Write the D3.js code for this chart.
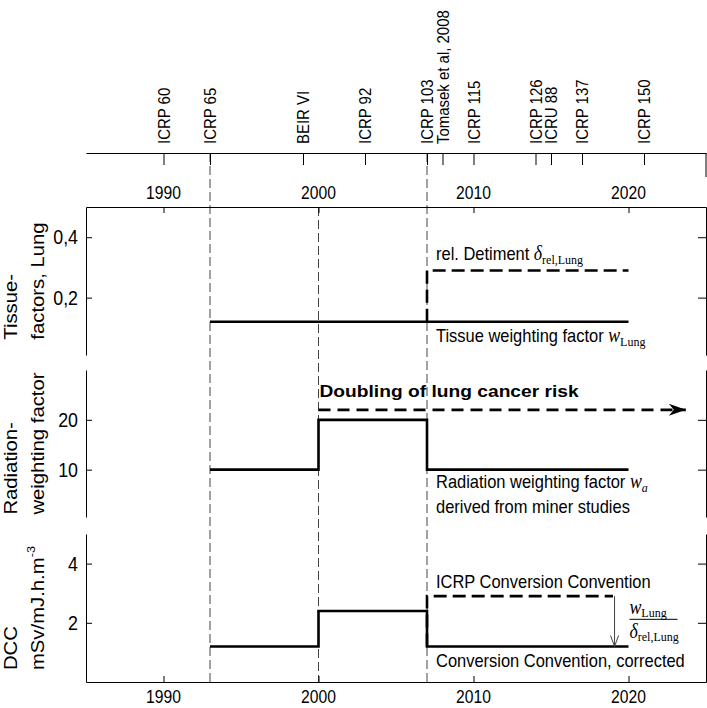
<!DOCTYPE html>
<html>
<head>
<meta charset="utf-8">
<script src="https://cdn.jsdelivr.net/npm/d3@7"></script>
<style>
  body { margin: 0; background: #fff; }
  svg { display: block; }
</style>
</head>
<body>
<div id="chart"></div>
<script>
// ---- data ----
var axisYears = [1990, 2000, 2010, 2020];
var eventNames = ["ICRP 60", "ICRP 65", "BEIR VI", "ICRP 92", "ICRP 103", "Tomasek et al, 2008",
                  "ICRP 115", "ICRP 126", "ICRU 88", "ICRP 137", "ICRP 150"];
var eventYears = [1990, 1993, 1999, 2003, 2007, 2008, 2010, 2014, 2015, 2017, 2021];
var refYears = [1993, 2000, 2007];

var tissueTicks = [0.2, 0.4];
var tissueTickLabels = ["0,2", "0,4"];
var radTicks = [10, 20];
var dccTicks = [2, 4];

// tissue weighting factor and relative detriment (lung)
var wLungYears = [1993, 2020];
var wLungVals = [0.12, 0.12];
var detrYears = [2007, 2007, 2020];
var detrVals = [0.12, 0.29, 0.29];

// radiation weighting factor (step after)
var waYears = [1993, 2000, 2007, 2020];
var waVals = [10, 20, 10, 10];
var doublingYears = [2000, 2023.7];
var doublingVals = [22, 22];

// dose conversion convention
var dccCorrYears = [1993, 2000, 2007, 2020];
var dccCorrVals = [1.2, 2.4, 1.2, 1.2];
var dccIcrpYears = [2007, 2007, 2019];
var dccIcrpVals = [1.2, 2.9, 2.9];
var ratioArrowYears = [2019.1, 2019.1];
var ratioArrowVals = [2.9, 1.2];

// ---- layout ----
var width = 707, height = 708;
var sans = "'Liberation Sans', Arial, sans-serif";
var serif = "'Liberation Serif', 'Times New Roman', serif";

var svg = d3.select("#chart").append("svg")
    .attr("width", width)
    .attr("height", height);

var x = d3.scaleLinear().domain([1985, 2025]).range([86, 706]);
var y1 = d3.scaleLinear().domain([0.01, 0.5]).range([355, 207]);
var y2 = d3.scaleLinear().domain([0.5, 30]).range([517, 370]);
var y3 = d3.scaleLinear().domain([0, 5]).range([682, 534]);

var eventAxisY = 153;

// horizontal text, slightly condensed like the original
function hText(sel, px, py, size, sx, anchor) {
    return sel.append("text")
        .attr("transform", "translate(" + px + "," + py + ") scale(" + sx + ",1)")
        .attr("text-anchor", anchor || "start")
        .style("font-family", sans)
        .style("font-size", size + "px")
        .style("fill", "#000");
}

function pts(xs, vs) { return d3.zip(xs, vs); }

// ---- dashed reference lines ----
refYears.forEach(function (yr) {
    svg.append("line")
        .attr("x1", x(yr)).attr("x2", x(yr))
        .attr("y1", yr === 2000 ? y1.range()[1] : eventAxisY)
        .attr("y2", y3.range()[0])
        .attr("stroke", "#444")
        .attr("stroke-width", 1)
        .attr("stroke-dasharray", "9,4");
});

// ---- event axis on top ----
svg.append("g")
    .attr("transform", "translate(0," + eventAxisY + ")")
    .call(d3.axisBottom(x).tickValues(eventYears).tickSizeInner(12).tickSizeOuter(0).tickFormat(""));
svg.append("line")
    .attr("x1", x(2025)).attr("x2", x(2025))
    .attr("y1", eventAxisY).attr("y2", eventAxisY + 24)
    .attr("stroke", "#000");

eventNames.forEach(function (name, i) {
    svg.append("text")
        .attr("transform", "translate(" + x(eventYears[i]) + "," + (eventAxisY - 9) + ") rotate(-90) scale(0.88,1)")
        .attr("dy", "0.36em")
        .style("font-family", sans)
        .style("font-size", "17px")
        .text(name);
});

// ---- year axes ----
svg.append("g")
    .attr("transform", "translate(0," + y1.range()[1] + ")")
    .call(d3.axisBottom(x).tickValues(axisYears).tickSizeInner(6).tickSizeOuter(0).tickFormat(""));
svg.append("g")
    .attr("transform", "translate(0," + y3.range()[0] + ")")
    .call(d3.axisBottom(x).tickValues(axisYears).tickSizeInner(-6).tickSizeOuter(0).tickFormat(""));

axisYears.forEach(function (yr) {
    hText(svg, x(yr), y1.range()[1] - 8, 18, 0.87, "middle").text(yr);
    hText(svg, x(yr), y3.range()[0] + 21, 18, 0.87, "middle").text(yr);
});

// ---- panel frames (left and right axes) ----
var panels = [
    {y: y1, ticks: tissueTicks, labels: tissueTickLabels, title: ["Tissue-", "factors, Lung"]},
    {y: y2, ticks: radTicks, labels: radTicks.map(String), title: ["Radiation-", "weighting factor"]},
    {y: y3, ticks: dccTicks, labels: dccTicks.map(String), title: ["DCC", "mSv/mJ.h.m"]}
];

panels.forEach(function (p, k) {
    svg.append("g")
        .attr("transform", "translate(" + x.range()[0] + ",0)")
        .call(d3.axisLeft(p.y).tickValues(p.ticks).tickSizeInner(-6).tickSizeOuter(0).tickFormat(""));
    svg.append("g")
        .attr("transform", "translate(" + x.range()[1] + ",0)")
        .call(d3.axisRight(p.y).tickValues(p.ticks).tickSizeInner(-8).tickSizeOuter(0).tickFormat(""));

    p.ticks.forEach(function (t, i) {
        hText(svg, x.range()[0] - 8, p.y(t), 20, 0.89, "end")
            .attr("dy", "0.36em")
            .text(p.labels[i]);
    });

    // two-line rotated title, lines left-aligned, block centred on the panel
    var cy = (p.y.range()[0] + p.y.range()[1]) / 2;
    var sxAlong = 1.16;
    var lines = p.title.map(function (s, i) {
        var t = svg.append("text")
            .style("font-family", sans)
            .style("font-size", "17.5px")
            .text(s);
        if (k === 2 && i === 1) {
            t.append("tspan")
                .attr("dy", -9)
                .style("font-size", "11px")
                .text("-3");
        }
        return t;
    });
    var maxLen = d3.max(lines, function (t) { return t.node().getComputedTextLength() * sxAlong; });
    var baseX = [17, 44];
    lines.forEach(function (t, i) {
        t.attr("transform", "translate(" + baseX[i] + "," + (cy + maxLen / 2) + ") rotate(-90) scale(" + sxAlong + ",1)");
    });
});

// ---- markers ----
var defs = svg.append("defs");
defs.append("marker")
    .attr("id", "bigArrow")
    .attr("markerUnits", "userSpaceOnUse")
    .attr("viewBox", "-18 -7 19 14")
    .attr("refX", 0).attr("refY", 0)
    .attr("markerWidth", 19).attr("markerHeight", 14)
    .attr("orient", "auto")
    .append("path")
    .attr("d", "M0,0 L-17,-6 L-12,0 L-17,6 Z")
    .attr("fill", "#000");
defs.append("marker")
    .attr("id", "thinArrow")
    .attr("markerUnits", "userSpaceOnUse")
    .attr("viewBox", "-12 -6 13 12")
    .attr("refX", 0).attr("refY", 0)
    .attr("markerWidth", 13).attr("markerHeight", 12)
    .attr("orient", "auto")
    .append("path")
    .attr("d", "M-11,-4 L0,0 L-11,4")
    .attr("fill", "none")
    .attr("stroke", "#444")
    .attr("stroke-width", 1);

// ---- series ----
function drawLine(yScale, data, dashed, curve) {
    var line = d3.line()
        .x(function (d) { return x(d[0]); })
        .y(function (d) { return yScale(d[1]); });
    if (curve) line.curve(curve);
    return svg.append("path")
        .datum(data)
        .attr("fill", "none")
        .attr("stroke", "#000")
        .attr("stroke-width", 2.6)
        .attr("stroke-dasharray", dashed ? "13,6" : null)
        .attr("d", line);
}

drawLine(y1, pts(wLungYears, wLungVals), false);
drawLine(y1, pts(detrYears, detrVals), true);

drawLine(y2, pts(waYears, waVals), false, d3.curveStepAfter);
drawLine(y2, pts(doublingYears, doublingVals), true)
    .attr("stroke-dasharray", "12,7")
    .attr("marker-end", "url(#bigArrow)");

drawLine(y3, pts(dccCorrYears, dccCorrVals), false, d3.curveStepAfter);
drawLine(y3, pts(dccIcrpYears, dccIcrpVals), true);
drawLine(y3, pts(ratioArrowYears, ratioArrowVals), false)
    .attr("stroke", "#444")
    .attr("stroke-width", 1)
    .attr("marker-end", "url(#thinArrow)");

// ---- annotations ----
var tx = x(2007) + 9;

var t1 = hText(svg, tx, y1(0.29) - 10, 18.5, 0.89);
t1.append("tspan").text("rel. Detiment ");
t1.append("tspan").style("font-family", serif).style("font-style", "italic").style("font-size", "20px").text("δ");
t1.append("tspan").attr("dy", 4).style("font-family", serif).style("font-size", "13.5px").text("rel,Lung");

var t2 = hText(svg, tx, y1(0.12) + 20, 18.5, 0.89);
t2.append("tspan").text("Tissue weighting factor ");
t2.append("tspan").style("font-family", serif).style("font-style", "italic").style("font-size", "20px").text("w");
t2.append("tspan").attr("dy", 4).style("font-family", serif).style("font-size", "13.5px").text("Lung");

hText(svg, x(2000) + 1, y2(22) - 13, 17, 1.13)
    .style("font-weight", "bold")
    .text("Doubling of lung cancer risk");

var t3 = hText(svg, tx, y2(10) + 18, 18.5, 0.89);
t3.append("tspan").text("Radiation weighting factor ");
t3.append("tspan").style("font-family", serif).style("font-style", "italic").style("font-size", "20px").text("w");
t3.append("tspan").attr("dy", 4).style("font-family", serif).style("font-style", "italic").style("font-size", "13.5px").text("a");
hText(svg, tx, y2(10) + 43, 18.5, 0.89).text("derived from miner studies");

hText(svg, tx, y3(2.9) - 8, 18.5, 0.89).text("ICRP Conversion Convention");
hText(svg, tx, y3(1.2) + 21, 18.5, 0.89).text("Conversion Convention, corrected");

// fraction w_Lung / delta_rel,Lung
var fx = x(2020) + 1;
var barY = (y3(2.9) + y3(1.2)) / 2 - 2;
var num = hText(svg, fx, barY - 5, 18.5, 0.89);
num.append("tspan").style("font-family", serif).style("font-style", "italic").style("font-size", "20px").text("w");
num.append("tspan").attr("dy", 3).style("font-family", serif).style("font-size", "13.5px").text("Lung");
svg.append("line")
    .attr("x1", fx).attr("x2", fx + 48)
    .attr("y1", barY).attr("y2", barY)
    .attr("stroke", "#000").attr("stroke-width", 1);
var den = hText(svg, fx, barY + 19, 18.5, 0.89);
den.append("tspan").style("font-family", serif).style("font-style", "italic").style("font-size", "20px").text("δ");
den.append("tspan").attr("dy", 3).style("font-family", serif).style("font-size", "13.5px").text("rel,Lung");
</script>
</body>
</html>
